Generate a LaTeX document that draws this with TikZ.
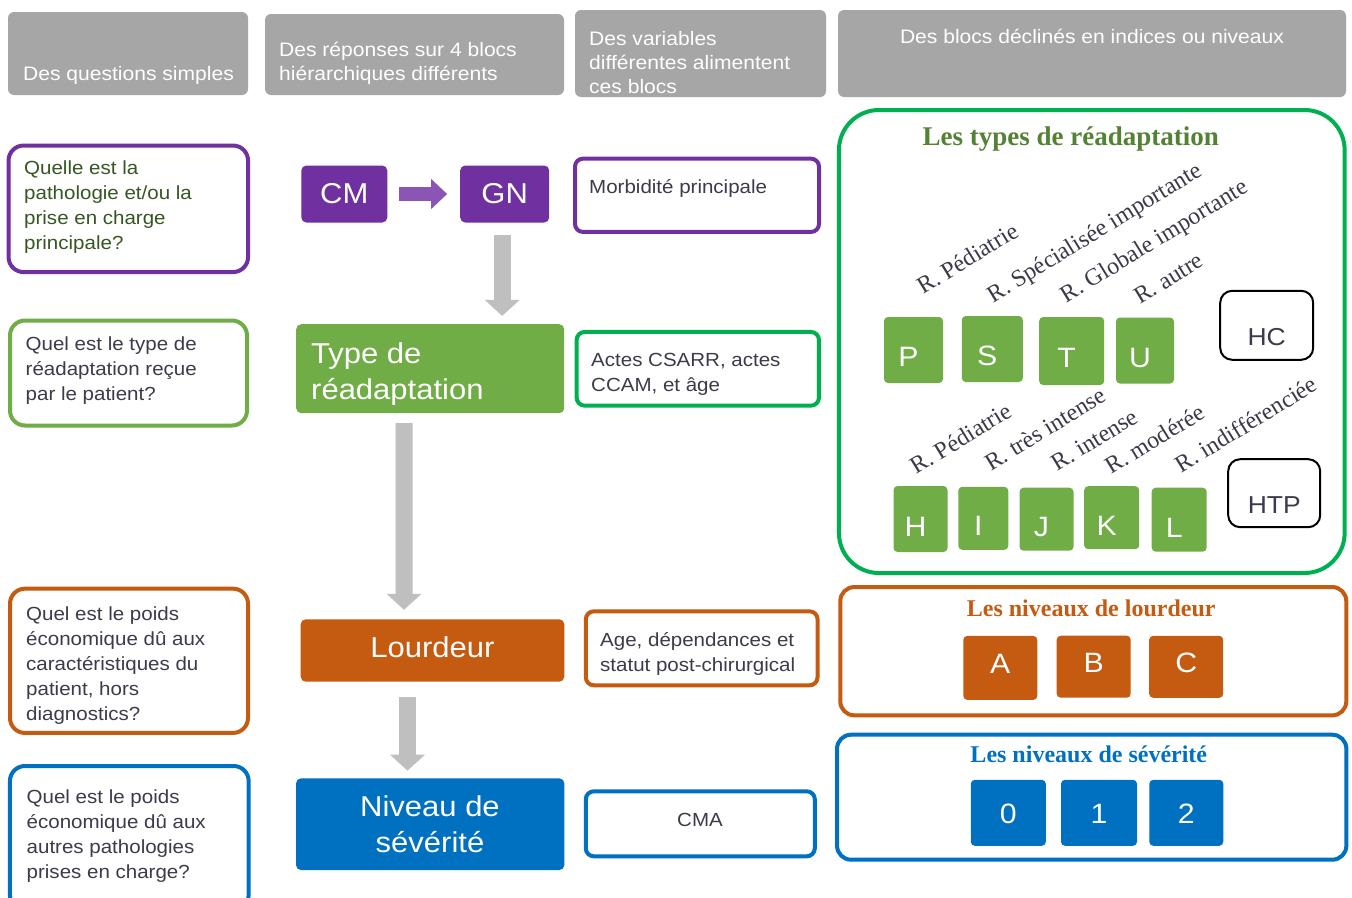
\documentclass[tikz,border=0pt]{standalone}
\usepackage{fontspec}
\setmainfont{Liberation Sans}[FakeStretch=1.08]
\newfontfamily\tnr{Liberation Serif}
\usetikzlibrary{arrows.meta}
\definecolor{hdrgray}{HTML}{A6A6A6}
\definecolor{cpurple}{HTML}{7030A0}
\definecolor{carrowp}{HTML}{8B55B5}
\definecolor{cgreen}{HTML}{70AD47}
\definecolor{cbgreen}{HTML}{00B050}
\definecolor{corange}{HTML}{C55A11}
\definecolor{cblue}{HTML}{0070C0}
\definecolor{cgrayarrow}{HTML}{BFBFBF}
\definecolor{qgreen}{HTML}{375623}
\definecolor{qtext}{HTML}{3B3B4B}
\definecolor{tgreen}{HTML}{548235}
\definecolor{lblcol}{HTML}{3A3A48}
\newcommand\fHdr{\fontsize{19.5}{24}\selectfont}
\newcommand\fQ{\fontsize{19}{25}\selectfont}
\newcommand\fBig{\fontsize{28.7}{36}\selectfont}
\newcommand\fSq{\fontsize{28}{30}\selectfont}
\newcommand\fHC{\fontsize{24.5}{26}\selectfont}
\newcommand\fLbl{\tnr\fontsize{24}{26}\selectfont}
\newcommand\fTtlA{\tnr\bfseries\fontsize{27}{30}\selectfont}
\newcommand\fTtlB{\tnr\bfseries\fontsize{24}{26}\selectfont}
\begin{document}
\begin{tikzpicture}[x=1pt,y=-1pt,
  box/.style={rectangle, inner sep=0pt, outer sep=0pt},
  hdr/.style={box, fill=hdrgray, rounded corners=6pt},
  qbox/.style={box, draw=#1, line width=4pt, rounded corners=15pt, fill=white},
  vbox/.style={box, draw=#1, line width=4pt, rounded corners=8pt, fill=white},
  blk/.style={box, fill=#1, rounded corners=5pt, text=white, font=\fBig},
  sq/.style={box, fill=#1, rounded corners=4pt, text=white, font=\fSq, text depth=0pt},
  gsq/.style={sq=cgreen, execute at begin node={\kern-5pt}, execute at end node={\kern5pt}},
  outl/.style={box, draw=black, line width=2pt, rounded corners=12pt, fill=white, text=qtext, font=\fHC, text depth=0pt},
  bigbox/.style={box, draw=#1, line width=4pt},
  htxt/.style={inner sep=0pt, anchor=base west, align=left, text=white, font=\fHdr},
  qtxt/.style={inner sep=0pt, anchor=base west, align=left, font=\fQ},
  bigtxt/.style={inner sep=0pt, text=white, font=\fBig},
  lblt/.style={inner sep=0pt, anchor=base west, rotate=31.5, text=lblcol, font=\fLbl},
  ttl/.style={inner sep=0pt, anchor=base},
  bigarrow/.style={draw=cgrayarrow, line width=17pt, -{Triangle[length=16pt,width=34pt]}}
]
\clip (0,0) rectangle (1352,897);
\fill[white] (0,0) rectangle (1352,897);

% ---------- headers (multi-line text nodes are anchored at their last baseline)
\node[hdr, minimum width=240pt, minimum height=83pt] (h1) at (128,53.5) {};
\node[htxt] (h1t) at (23,80) {Des questions simples};
\node[hdr, minimum width=299pt, minimum height=81pt] (h2) at (414.5,54.5) {};
\node[htxt] (h2t) at (279,80) {Des réponses sur 4 blocs\\hiérarchiques différents};
\node[hdr, minimum width=251pt, minimum height=87pt] (h3) at (700.5,53.5) {};
\node[htxt] (h3t) at (589,93) {Des variables\\différentes alimentent\\ces blocs};
\node[hdr, minimum width=508pt, minimum height=87pt] (h4) at (1092,53.5) {};
\node[htxt, anchor=base, align=center] (h4t) at (1092,43) {Des blocs déclinés en indices ou niveaux};

% ---------- questions
\node[qbox=cpurple, minimum width=239.5pt, minimum height=126.5pt] (q1) at (128.3,208.8) {};
\node[qtxt, text=qgreen] (q1t) at (24,249) {Quelle est la\\pathologie et/ou la\\prise en charge\\principale?};
\node[qbox=cgreen, minimum width=237pt, minimum height=105pt] (q2) at (128.5,373) {};
\node[qtxt, text=qtext] (q2t) at (25.5,400) {Quel est le type de\\réadaptation reçue\\par le patient?};
\node[qbox=corange, minimum width=238pt, minimum height=144.3pt] (q3) at (129,660.8) {};
\node[qtxt, text=qtext] (q3t) at (26,720) {Quel est le poids\\économique dû aux\\caractéristiques du\\patient, hors\\diagnostics?};
\node[qbox=cblue, minimum width=238.7pt, minimum height=144pt] (q4) at (129.3,838) {};
\node[qtxt, text=qtext] (q4t) at (26.5,878) {Quel est le poids\\économique dû aux\\autres pathologies\\prises en charge?};

% ---------- blocks
\node[blk=cpurple, minimum width=86pt, minimum height=57pt] (cm) at (344.3,194) {CM};
\node[blk=cpurple, minimum width=89pt, minimum height=57pt] (gn) at (504.7,194) {GN};
\node[blk=cgreen, minimum width=268pt, minimum height=89pt] (type) at (430.2,368.7) {};
\node[bigtxt, anchor=base west, align=left] (typet) at (311,399) {Type de\\réadaptation};
\node[blk=corange, minimum width=263.6pt, minimum height=62.4pt, text height=14pt, text depth=0pt] (lourd) at (432.5,650.5) {Lourdeur};
\node[blk=cblue, minimum width=268.3pt, minimum height=91.7pt] (niv) at (430.2,824.2) {};
\node[bigtxt, anchor=base, align=center] (nivt) at (430,852.7) {Niveau de\\sévérité};

\draw[draw=carrowp, line width=14pt, -{Triangle[length=16pt,width=29pt]}, shorten <=12pt, shorten >=13pt] (cm.east) -- (gn.west);
\draw[bigarrow, shorten <=12.3pt, shorten >=8.3pt] ([xshift=-2.5pt]gn.south) -- ([xshift=72pt]type.north);
\draw[bigarrow, shorten <=10pt, shorten >=9.5pt] ([xshift=-26pt]type.south) -- ([xshift=-28.5pt]lourd.north);
\draw[bigarrow, shorten <=15pt, shorten >=7.7pt] ([xshift=-25pt]lourd.south) -- ([xshift=-22.7pt]niv.north);

% ---------- variables
\node[vbox=cpurple, minimum width=244pt, minimum height=73.3pt] (v1) at (697,195.3) {};
\node[qtxt, text=qtext] (v1t) at (589,193.3) {Morbidité principale};
\node[vbox=cbgreen, minimum width=242.3pt, minimum height=73.7pt] (v2) at (697.8,368.8) {};
\node[qtxt, text=qtext] (v2t) at (591,391.7) {Actes CSARR, actes\\CCAM, et âge};
\node[vbox=corange, minimum width=231.7pt, minimum height=74pt] (v3) at (701.7,648.3) {};
\node[qtxt, text=qtext] (v3t) at (600,671.7) {Age, dépendances et\\statut post-chirurgical};
\node[vbox=cblue, minimum width=229pt, minimum height=65pt] (v4) at (700.3,823.8) {};
\node[qtxt, anchor=base, text=qtext] (v4t) at (700,826.7) {CMA};

% ---------- types de readaptation
\node[bigbox=cbgreen, rounded corners=40pt, minimum width=505.7pt, minimum height=463pt] (r1) at (1091.8,341.5) {};
\node[ttl, text=tgreen, font=\fTtlA] (r1t) at (1070.8,145) {Les types de réadaptation};

\node[lblt] (lp) at (923.3,295) {R. Pédiatrie};
\node[lblt] (ls) at (993.3,303.3) {R. Spécialisée importante};
\node[lblt] (lt) at (1066.7,303.3) {R. Globale importante};
\node[lblt] (lu) at (1140,305) {R. autre};

\node[gsq, text height=33pt, minimum width=59pt, minimum height=66pt] (sp) at (913.5,350) {P};
\node[gsq, text height=33pt, minimum width=61pt, minimum height=66pt] (ss) at (992.3,349) {S};
\node[gsq, text height=33pt, minimum width=65pt, minimum height=68pt] (st) at (1071.7,351) {T};
\node[gsq, text height=33pt, minimum width=58pt, minimum height=66pt] (su) at (1145,350.5) {U};
\node[outl, text height=39.4pt, minimum width=93pt, minimum height=69pt] (hc) at (1266.7,325.3) {HC};

\node[lblt] (lh) at (916.7,475) {R. Pédiatrie};
\node[lblt] (li) at (991,471.7) {R. très intense};
\node[lblt] (lj) at (1057.7,471.7) {R. intense};
\node[lblt] (lk) at (1111.7,475) {R. modérée};
\node[lblt] (ll) at (1181.7,473.3) {R. indifférenciée};

\node[gsq, text height=35pt, minimum width=54pt, minimum height=66pt] (sh) at (920.5,519) {H};
\node[gsq, text height=35pt, minimum width=50pt, minimum height=63pt] (si) at (983.3,518.3) {I};
\node[gsq, text height=35pt, minimum width=54pt, minimum height=63pt] (sj) at (1046.5,519.2) {J};
\node[gsq, text height=35pt, minimum width=55pt, minimum height=63pt] (sk) at (1111.7,517.7) {K};
\node[gsq, text height=35pt, minimum width=55pt, minimum height=64pt] (sl) at (1179.2,519.7) {L};
\node[outl, text height=40pt, minimum width=92pt, minimum height=68pt] (htp) at (1274.2,493.2) {HTP};

% ---------- lourdeur
\node[bigbox=corange, rounded corners=14pt, minimum width=506pt, minimum height=128.3pt] (r2) at (1093.3,651.2) {};
\node[ttl, text=corange, font=\fTtlB] (r2t) at (1091.2,616.7) {Les niveaux de lourdeur};
\node[sq=corange, text height=12pt, minimum width=74pt, minimum height=64pt] (sa) at (1000.3,667.9) {A};
\node[sq=corange, text height=12pt, minimum width=74pt, minimum height=62pt] (sb) at (1093.7,666.7) {B};
\node[sq=corange, text height=12pt, minimum width=74pt, minimum height=62pt] (sc) at (1186.2,666.8) {C};

% ---------- severite
\node[bigbox=cblue, rounded corners=14pt, minimum width=509.3pt, minimum height=125pt] (r3) at (1091.7,797.2) {};
\node[ttl, text=cblue, font=\fTtlB] (r3t) at (1088.8,762.7) {Les niveaux de sévérité};
\node[sq=cblue, text height=21pt, minimum width=75pt, minimum height=66pt] (s0) at (1008.3,812.8) {0};
\node[sq=cblue, text height=21pt, minimum width=76pt, minimum height=66pt] (s1) at (1099,812.8) {1};
\node[sq=cblue, text height=21pt, minimum width=74pt, minimum height=66pt] (s2) at (1186.3,812.8) {2};
\end{tikzpicture}
\end{document}
